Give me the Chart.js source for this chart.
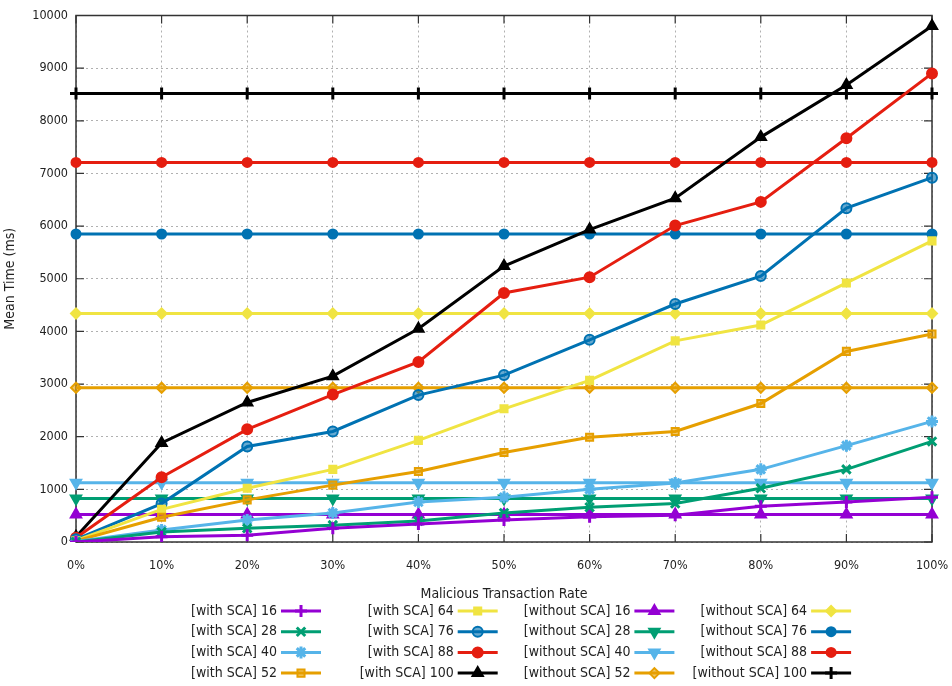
<!DOCTYPE html>
<html>
<head>
<meta charset="utf-8">
<script src="https://cdn.jsdelivr.net/npm/chart.js@4/dist/chart.umd.min.js"></script>
<style>
  html, body { margin: 0; padding: 0; background: #fff; }
  #wrap { width: 952px; height: 686px; }
</style>
</head>
<body>
<div id="wrap"><canvas id="chart" width="952" height="686"></canvas></div>
<script>
// x categories
const rates = ['0%', '10%', '20%', '30%', '40%', '50%', '60%', '70%', '80%', '90%', '100%'];
const yTicks = [0, 1000, 2000, 3000, 4000, 5000, 6000, 7000, 8000, 9000, 10000];

// mean time (ms), with SCA
const withSca16  = [0, 100, 130, 260, 340, 420, 480, 510, 680, 760, 850];
const withSca28  = [0, 190, 260, 320, 400, 550, 660, 730, 1020, 1380, 1910];
const withSca40  = [10, 230, 420, 550, 760, 850, 1000, 1120, 1380, 1830, 2290];
const withSca52  = [20, 470, 800, 1080, 1340, 1700, 1990, 2100, 2630, 3620, 3950];
const withSca64  = [30, 620, 1020, 1380, 1930, 2530, 3070, 3820, 4120, 4920, 5720];
const withSca76  = [50, 730, 1815, 2100, 2790, 3170, 3840, 4520, 5050, 6340, 6920];
const withSca88  = [80, 1230, 2140, 2800, 3420, 4730, 5030, 6010, 6460, 7670, 8900];
const withSca100 = [100, 1880, 2650, 3150, 4050, 5240, 5935, 6530, 7690, 8680, 9800];

// mean time (ms), without SCA (flat)
const withoutSca16  = [520, 520, 520, 520, 520, 520, 520, 520, 520, 520, 520];
const withoutSca28  = [825, 825, 825, 825, 825, 825, 825, 825, 825, 825, 825];
const withoutSca40  = [1125, 1125, 1125, 1125, 1125, 1125, 1125, 1125, 1125, 1125, 1125];
const withoutSca52  = [2930, 2930, 2930, 2930, 2930, 2930, 2930, 2930, 2930, 2930, 2930];
const withoutSca64  = [4340, 4340, 4340, 4340, 4340, 4340, 4340, 4340, 4340, 4340, 4340];
const withoutSca76  = [5850, 5850, 5850, 5850, 5850, 5850, 5850, 5850, 5850, 5850, 5850];
const withoutSca88  = [7210, 7210, 7210, 7210, 7210, 7210, 7210, 7210, 7210, 7210, 7210];
const withoutSca100 = [8520, 8520, 8520, 8520, 8520, 8520, 8520, 8520, 8520, 8520, 8520];

const purple = '#9400d3';
const green = '#009e73';
const skyblue = '#56b4e9';
const orange = '#e69f00';
const yellow = '#f0e442';
const blue = '#0072b2';
const red = '#e51e10';
const black = '#000000';

const FONT = '"DejaVu Sans Condensed", "DejaVu Sans", sans-serif';

function serie(label, data, color, style, opts) {
  opts = opts || {};
  return {
    label: label,
    data: data,
    borderColor: color,
    backgroundColor: color,
    borderWidth: 3,
    pointStyle: style,
    pointRadius: opts.r || 5,
    pointBorderWidth: opts.bw || 2,
    pointRotation: opts.rot || 0,
    pointBackgroundColor: opts.open ? color + '99' : color,
    pointBorderColor: color,
    tension: 0
  };
}

const datasets = [
  serie('[with SCA] 16', withSca16, purple, 'cross', { r: 6, bw: 3 }),
  serie('[with SCA] 28', withSca28, green, 'crossRot', { r: 6, bw: 3 }),
  serie('[with SCA] 40', withSca40, skyblue, 'star', { r: 6, bw: 3 }),
  serie('[with SCA] 52', withSca52, orange, 'rect', { open: true }),
  serie('[with SCA] 64', withSca64, yellow, 'rect'),
  serie('[with SCA] 76', withSca76, blue, 'circle', { open: true }),
  serie('[with SCA] 88', withSca88, red, 'circle'),
  serie('[with SCA] 100', withSca100, black, 'triangle', { r: 6 }),
  serie('[without SCA] 16', withoutSca16, purple, 'triangle', { r: 6 }),
  serie('[without SCA] 28', withoutSca28, green, 'triangle', { r: 6, rot: 180 }),
  serie('[without SCA] 40', withoutSca40, skyblue, 'triangle', { r: 6, rot: 180 }),
  serie('[without SCA] 52', withoutSca52, orange, 'rectRot', { open: true }),
  serie('[without SCA] 64', withoutSca64, yellow, 'rectRot'),
  serie('[without SCA] 76', withoutSca76, blue, 'circle', { r: 4.5 }),
  serie('[without SCA] 88', withoutSca88, red, 'circle', { r: 4.5 }),
  serie('[without SCA] 100', withoutSca100, black, 'cross', { r: 6, bw: 3 })
];

// gnuplot style frame with inward ticks
const framePlugin = {
  id: 'frame',
  beforeDatasetsDraw(chart) {
    const { ctx, chartArea: a, scales } = chart;
    ctx.save();
    ctx.strokeStyle = '#333';
    ctx.lineWidth = 1.5;
    ctx.strokeRect(a.left, a.top, a.right - a.left, a.bottom - a.top);
    ctx.lineWidth = 1.2;
    ctx.beginPath();
    scales.x.ticks.forEach((t, i) => {
      const x = scales.x.getPixelForTick(i);
      ctx.moveTo(x, a.bottom); ctx.lineTo(x, a.bottom - 8);
      ctx.moveTo(x, a.top); ctx.lineTo(x, a.top + 8);
    });
    yTicks.forEach(v => {
      const y = scales.y.getPixelForValue(v);
      ctx.moveTo(a.left, y); ctx.lineTo(a.left + 8, y);
      ctx.moveTo(a.right, y); ctx.lineTo(a.right - 8, y);
    });
    ctx.stroke();
    ctx.restore();
  }
};

// legend: 4 columns, text right-aligned before its sample
const legendPlugin = {
  id: 'gpLegend',
  afterDraw(chart) {
    const ctx = chart.ctx;
    ctx.save();
    ctx.font = '14px ' + FONT;
    ctx.textAlign = 'right';
    ctx.textBaseline = 'middle';
    chart.data.datasets.forEach((ds, i) => {
      const col = Math.floor(i / 4);
      const row = i % 4;
      const tx = 277 + col * 176.7;
      const ty = 611 + row * 20.7;
      ctx.fillStyle = '#222';
      ctx.fillText(ds.label, tx, ty);
      ctx.strokeStyle = ds.borderColor;
      ctx.lineWidth = 3;
      ctx.beginPath();
      ctx.moveTo(tx + 4, ty);
      ctx.lineTo(tx + 44, ty);
      ctx.stroke();
      ctx.fillStyle = ds.pointBackgroundColor;
      ctx.strokeStyle = ds.pointBorderColor;
      ctx.lineWidth = ds.pointBorderWidth;
      Chart.helpers.drawPoint(ctx, {
        pointStyle: ds.pointStyle,
        rotation: ds.pointRotation,
        radius: ds.pointRadius,
        borderWidth: ds.pointBorderWidth
      }, tx + 24, ty);
    });
    ctx.restore();
  }
};

new Chart(document.getElementById('chart'), {
  type: 'line',
  data: { labels: rates, datasets: datasets },
  options: {
    responsive: false,
    animation: false,
    layout: { padding: { top: 13, right: 0, bottom: 79, left: 0 } },
    plugins: {
      legend: { display: false },
      tooltip: { enabled: false }
    },
    scales: {
      x: {
        type: 'category',
        offset: false,
        grid: { color: '#b0b0b0', drawTicks: false, lineWidth: 1 },
        border: { display: false, dash: [2, 3] },
        ticks: { color: '#222', font: { family: FONT, size: 12.5 }, padding: 16, maxRotation: 0 },
        title: {
          display: true,
          text: 'Malicious Transaction Rate',
          color: '#222',
          font: { family: FONT, size: 14 },
          padding: { top: 4, bottom: 4 }
        },
        afterFit(scale) {
          scale.height = 65;
          scale.paddingRight = 20;
          scale.paddingLeft = 0;
        }
      },
      y: {
        min: 0,
        max: 10000,
        afterBuildTicks(scale) { scale.ticks = yTicks.map(v => ({ value: v })); },
        grid: { color: '#b0b0b0', drawTicks: false, lineWidth: 1 },
        border: { display: false, dash: [2, 3] },
        ticks: {
          color: '#222',
          font: { family: FONT, size: 12.5 },
          padding: 8,
          callback: v => String(v)
        },
        title: {
          display: true,
          text: 'Mean Time (ms)',
          color: '#222',
          font: { family: FONT, size: 14 },
          padding: { top: 2, bottom: 2 }
        },
        afterFit(scale) { scale.width = 76; }
      }
    }
  },
  plugins: [framePlugin, legendPlugin]
});
</script>
</body>
</html>
